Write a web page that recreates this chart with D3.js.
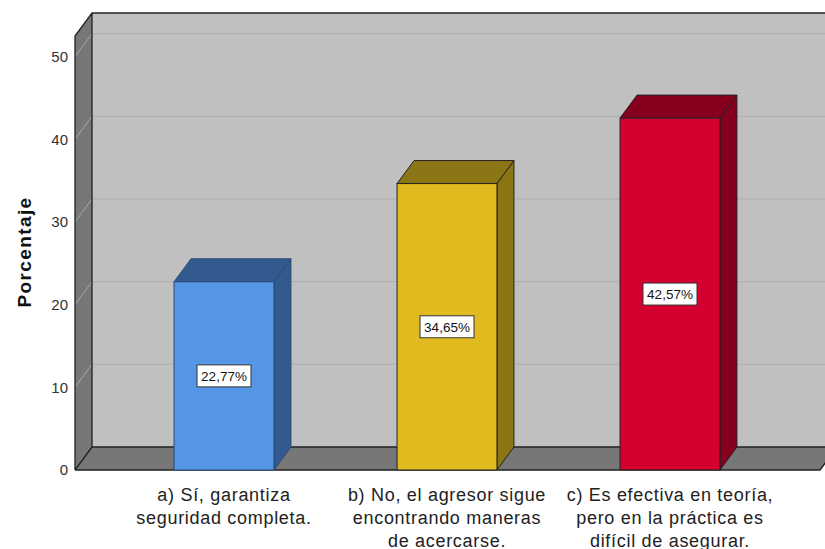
<!DOCTYPE html>
<html>
<head>
<meta charset="utf-8">
<script src="https://cdn.jsdelivr.net/npm/d3@7"></script>
<style>
  body { margin: 0; background: #fff; }
  svg { display: block; font-family: "Liberation Sans", Arial, sans-serif; }
</style>
</head>
<body>
<svg id="chart" width="825" height="549"></svg>
<script>
// data
const categories = ["a", "b", "c"];
const labelLines = [
  ["a) Sí, garantiza", "seguridad completa."],
  ["b) No, el agresor sigue", "encontrando maneras", "de acercarse."],
  ["c) Es efectiva en teoría,", "pero en la práctica es", "difícil de asegurar."]
];
const values = [22.77, 34.65, 42.57];
const valueLabels = ["22,77%", "34,65%", "42,57%"];
const yTicks = [0, 10, 20, 30, 40, 50];

const frontColors = ["#5596e6", "#e1ba1f", "#d40030"];
const sideColors = ["#335a8f", "#8c7514", "#86001e"];
const edgeColors = ["#2b4a73", "#222", "#222"];

// depth offset of the 3d box
const dx = 17, dy = -23;
const left = 75, right = 820, base = 470;

const svg = d3.select("#chart");

const y = d3.scaleLinear().domain([0, 52.5]).range([base, 36]);
const x = d3.scaleBand().domain(categories)
  .range([112.5, 781.5])
  .paddingInner(0.552)
  .paddingOuter(0.276);

const topY = y(52.5);
const poly = pts => pts.map(p => p.join(",")).join(" ");

// back wall
svg.append("polygon")
  .attr("points", poly([[left + dx, topY + dy], [right + dx + 20, topY + dy], [right + dx + 20, base + dy], [left + dx, base + dy]]))
  .attr("fill", "#c0c0c0");

// grid on back wall
svg.append("g").selectAll("line")
  .data(yTicks.filter(d => d > 0))
  .enter().append("line")
  .attr("x1", left + dx).attr("x2", 825)
  .attr("y1", d => y(d) + dy).attr("y2", d => y(d) + dy)
  .attr("stroke", "#aeaeae").attr("stroke-width", 1);

// left wall
svg.append("polygon")
  .attr("points", poly([[left, topY], [left + dx, topY + dy], [left + dx, base + dy], [left, base]]))
  .attr("fill", "#777777");

svg.append("g").selectAll("line")
  .data(yTicks.filter(d => d > 0))
  .enter().append("line")
  .attr("x1", left).attr("x2", left + dx)
  .attr("y1", d => y(d)).attr("y2", d => y(d) + dy)
  .attr("stroke", "#a8a8a8").attr("stroke-width", 1);

// floor
svg.append("polygon")
  .attr("points", poly([[left, base], [right, base], [right + dx, base + dy], [left + dx, base + dy]]))
  .attr("fill", "#777777");

// frame edges
svg.append("path")
  .attr("d", `M${left},${base}V${topY}L${left + dx},${topY + dy}H825`
    + `M${left + dx},${topY + dy}V${base + dy}H825`
    + `M${left},${base}L${left + dx},${base + dy}`)
  .attr("fill", "none").attr("stroke", "#222").attr("stroke-width", 1.3);
svg.append("path")
  .attr("d", `M${left},${base}H${right}L${right + dx},${base + dy}`)
  .attr("fill", "none").attr("stroke", "#222").attr("stroke-width", 1.5);

// bars
const bars = svg.append("g").selectAll("g")
  .data(values)
  .enter().append("g");

bars.append("polygon")
  .attr("points", (d, i) => {
    const x1 = x(categories[i]) + x.bandwidth();
    return poly([[x1, y(d)], [x1 + dx, y(d) + dy], [x1 + dx, base + dy], [x1, base]]);
  })
  .attr("fill", (d, i) => sideColors[i])
  .attr("stroke", (d, i) => edgeColors[i]).attr("stroke-width", 1);

bars.append("polygon")
  .attr("points", (d, i) => {
    const x0 = x(categories[i]), x1 = x0 + x.bandwidth();
    return poly([[x0, y(d)], [x0 + dx, y(d) + dy], [x1 + dx, y(d) + dy], [x1, y(d)]]);
  })
  .attr("fill", (d, i) => sideColors[i])
  .attr("stroke", (d, i) => edgeColors[i]).attr("stroke-width", 1);

bars.append("rect")
  .attr("x", (d, i) => x(categories[i]))
  .attr("y", d => y(d))
  .attr("width", x.bandwidth())
  .attr("height", d => base - y(d))
  .attr("fill", (d, i) => frontColors[i])
  .attr("stroke", (d, i) => edgeColors[i]).attr("stroke-width", 1);

// value labels
const lab = svg.append("g").selectAll("g")
  .data(values)
  .enter().append("g")
  .attr("transform", (d, i) => `translate(${x(categories[i]) + x.bandwidth() / 2},${y(d / 2)})`);

lab.append("rect")
  .attr("x", -27).attr("y", -11)
  .attr("width", 54).attr("height", 22)
  .attr("fill", "#fff").attr("stroke", "#333").attr("stroke-width", 1);

lab.append("text")
  .attr("text-anchor", "middle")
  .attr("dy", "0.36em")
  .attr("font-size", 13.5)
  .attr("fill", "#111")
  .text((d, i) => valueLabels[i]);

// y axis
const yAxis = svg.append("g")
  .attr("transform", `translate(${left},0)`)
  .call(d3.axisLeft(y).tickValues(yTicks).tickSize(0).tickPadding(7));
yAxis.select(".domain").remove();
yAxis.selectAll("text").attr("font-size", 15).attr("fill", "#333")
  .attr("font-family", "'Liberation Sans', Arial, sans-serif");

svg.append("text")
  .attr("transform", "translate(31,252) rotate(-90)")
  .attr("text-anchor", "middle")
  .attr("font-size", 19)
  .attr("font-weight", "bold")
  .attr("letter-spacing", 1.4)
  .attr("fill", "#111")
  .text("Porcentaje");

// category labels
const cat = svg.append("g").selectAll("text")
  .data(labelLines)
  .enter().append("text")
  .attr("text-anchor", "middle")
  .attr("font-size", 18)
  .attr("letter-spacing", 0.7)
  .attr("fill", "#222");

cat.selectAll("tspan")
  .data((d, i) => d.map(line => ({ line, i })))
  .enter().append("tspan")
  .attr("x", d => x(categories[d.i]) + x.bandwidth() / 2)
  .attr("y", (d, j) => 501 + j * 23)
  .text(d => d.line);
</script>
</body>
</html>
